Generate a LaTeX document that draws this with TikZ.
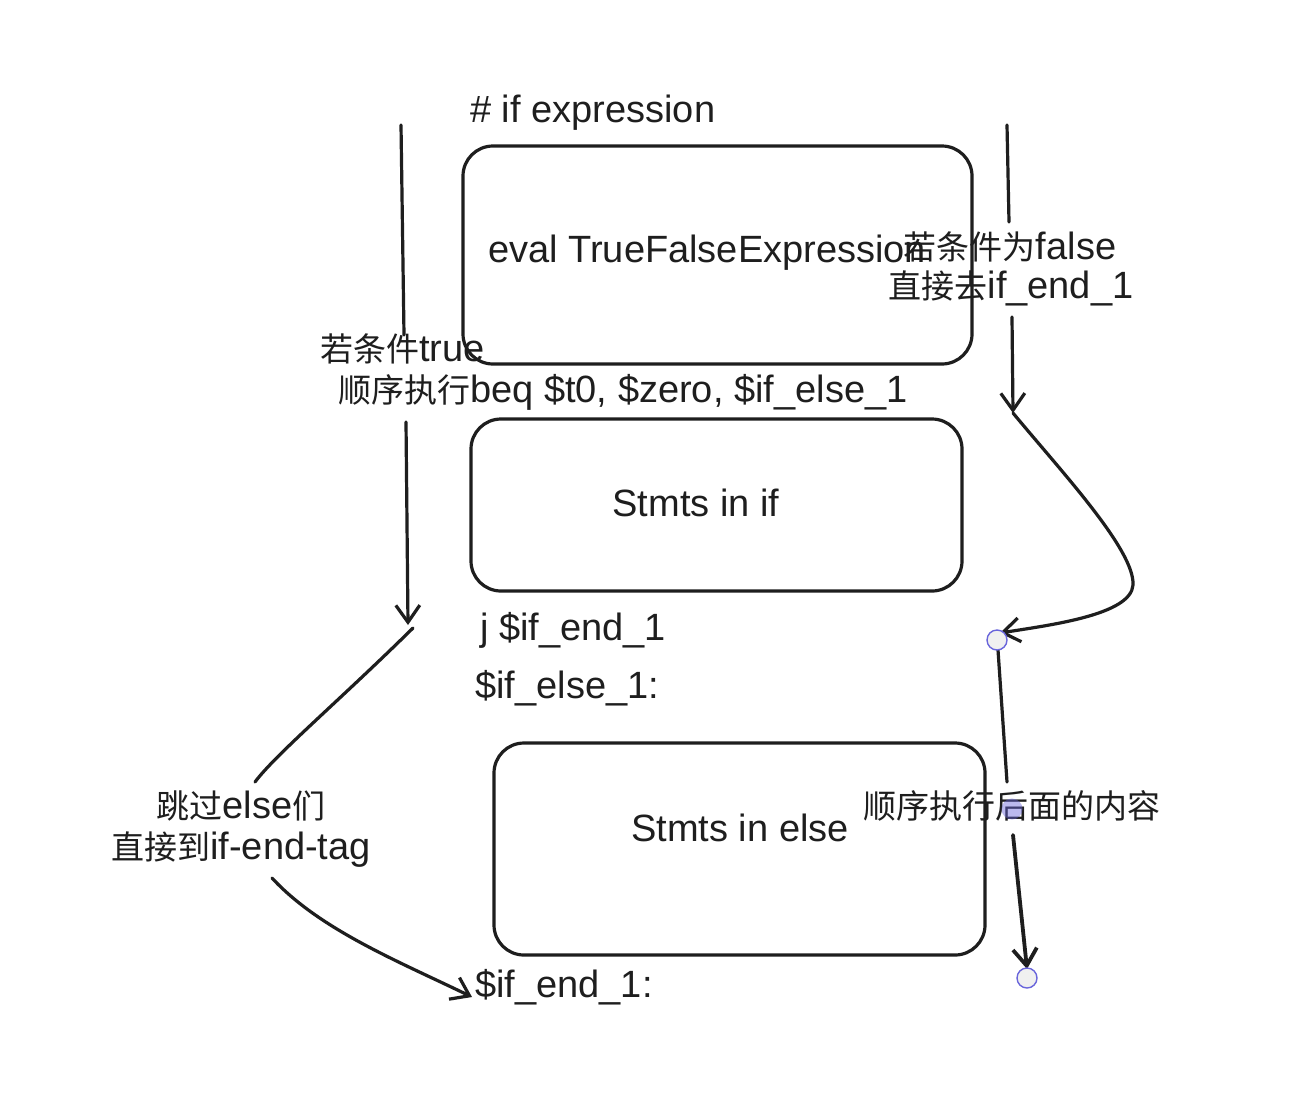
\documentclass[tikz,border=0pt]{standalone}
\usepackage{fontspec}
\setmainfont{Liberation Sans}
\newfontfamily\cjk{Noto Sans CJK SC}
\usetikzlibrary{arrows.meta}
\definecolor{ink}{HTML}{1E1E1E}
\definecolor{handle}{HTML}{6965DB}
\newcommand\zh[1]{{\cjk\fontsize{33}{40}\selectfont #1}}
\begin{document}
\begin{tikzpicture}[x=1pt,y=-1pt,
 box/.style={draw=ink, line width=3.2pt, rounded corners=30pt, inner sep=0pt},
 lbl/.style={inner sep=0pt, text=ink, font=\fontsize{38}{46}\selectfont},
 conn/.style={draw=ink, line width=3.2pt, line cap=round},
 arr/.style={conn, -{Straight Barb[length=17pt,width=24pt]}},
 hnd/.style={circle, draw=handle, line width=1.4pt, fill=white!94!black, minimum size=20pt, inner sep=0pt},
 mid/.style={circle, fill=handle, fill opacity=0.45, minimum size=21pt, inner sep=0pt}]
\useasboundingbox (0,0) rectangle (1314,1112);
\fill[white] (0,0) rectangle (1314,1112);

% boxes
\node[box, minimum width=509pt, minimum height=218pt] (b1) at (717.5,255) {};
\node[box, minimum width=491pt, minimum height=172pt] (b2) at (716.5,505) {};
\node[box, minimum width=491pt, minimum height=212pt] (b3) at (739.5,849) {};

% free connector ends
\coordinate (lt) at (401,125);
\coordinate (lg1) at (404,335);
\coordinate (lg2) at (406,422);
\coordinate (lb) at (408,625);
\coordinate (cs) at (413,628);
\coordinate (cg1) at (255,782);
\coordinate (cg2) at (272,878);
\coordinate (ce) at (472,997);
\coordinate (rt) at (1007,125);
\coordinate (rg1) at (1009,222);
\coordinate (rg2) at (1012,317);
\coordinate (rb) at (1013,413);
\coordinate (re) at (1000,633);
\coordinate (vs) at (998,650);
\coordinate (vg1) at (1007,782);
\coordinate (vg2) at (1013,835);
\coordinate (ve) at (1027,969);

% left connector
\draw[conn] (lt) -- (lg1);
\draw[arr] (lg2) -- (lb);
\draw[conn] (cs) .. controls (340,700) and (275,755) .. (cg1);
\draw[arr] (cg2) .. controls (320,930) and (400,962) .. (ce);

% right connector
\draw[conn] (rt) -- (rg1);
\draw[arr] (rg2) -- (rb);
\draw[arr] (rb) .. controls (1060,470) and (1135,550) .. (1133,585) .. controls (1131,615) and (1050,625) .. (re);
\draw[conn] (vs) -- (vg1);
\draw[arr, line width=3.8pt] (vg2) -- (ve);

% texts
\node[lbl, anchor=west] (t1) at (470,113) {\# if expression};
\node[lbl, anchor=west] (t2) at (488,253) {eval TrueFalseExpression};
\node[lbl] (t3a) at (1010,247) {\zh{若条件为}false};
\node[lbl] (t3b) at (1011,288) {\zh{直接去}if\_end\_1};
\node[lbl, anchor=west] (t4a) at (320,349) {\zh{若条件}true};
\node[lbl, anchor=west] (t4b) at (338,392) {\zh{顺序执行}beq \$t0, \$zero, \$if\_else\_1};
\node[lbl] (t5) at (696,503) {Stmts in if};
\node[lbl, anchor=west] (t6) at (480,630) {j \$if\_end\_1};
\node[lbl, anchor=west] (t7) at (475,688) {\$if\_else\_1:};
\node[lbl] (t8a) at (241,806) {\zh{跳过}else\zh{们}};
\node[lbl] (t8b) at (241,850) {\zh{直接到}if-end-tag};
\node[lbl] (t9) at (740,828) {Stmts in else};
\node[lbl] (t10) at (1012,806) {\zh{顺序执行后面的内容}};
\node[lbl, anchor=west] (t11) at (475,987) {\$if\_end\_1:};

% handles
\node[hnd] (h1) at (997,640) {};
\node[hnd] (h2) at (1027,978) {};
\node[mid] (hm) at (1012,809) {};
\end{tikzpicture}
\end{document}
